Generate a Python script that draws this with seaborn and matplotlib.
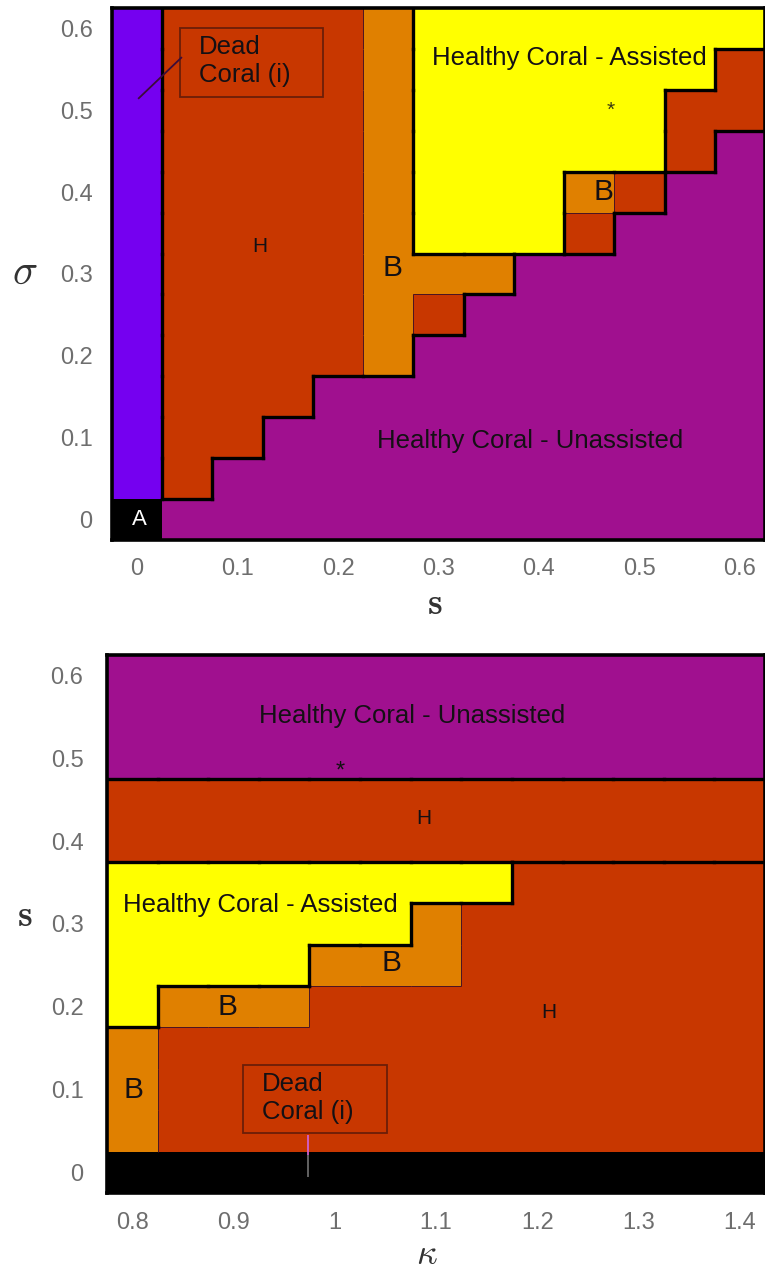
import numpy as np
import pandas as pd
import matplotlib
matplotlib.use("Agg")
import matplotlib.pyplot as plt
from matplotlib.colors import ListedColormap
from matplotlib.collections import LineCollection
from matplotlib.patches import Rectangle
import seaborn as sns

sns.set_theme(style="white")
plt.rcParams["font.family"] = ["Liberation Sans", "DejaVu Sans"]
plt.rcParams["mathtext.fontset"] = "cm"

# ---------------------------------------------------------------- regimes
# A: no coral, D: dead coral (i), H / h: two H regimes, B: bistable,
# Y: healthy coral (assisted), U: healthy coral (unassisted)
region_codes = ["A", "D", "H", "h", "B", "Y", "U"]
region_colors = ["#000000", "#7500F0", "#C83700", "#C83700",
                 "#E08000", "#FFFF00", "#A0108F"]
# boundaries between these pairs are drawn thin
soft_pairs = [{"H", "B"}, {"h", "B"}]

# ---------------------------------------------------------------- panel 1: s vs sigma
s_values = [0.00, 0.05, 0.10, 0.15, 0.20, 0.25, 0.30,
            0.35, 0.40, 0.45, 0.50, 0.55, 0.60]
sigma_values = [0.00, 0.05, 0.10, 0.15, 0.20, 0.25, 0.30,
                0.35, 0.40, 0.45, 0.50, 0.55, 0.60]
# one string per sigma value, from sigma = 0.60 down to sigma = 0.00
sigma_s_rows = [
    "DHHHHBYYYYYYY",
    "DHHHHBYYYYYYH",
    "DHHHHBYYYYYHH",
    "DHHHHBYYYYYHU",
    "DHHHHBYYYBHUU",
    "DHHHHBYYYHUUU",
    "DHHHHBBBUUUUU",
    "DHHHHBHUUUUUU",
    "DHHHHBUUUUUUU",
    "DHHHUUUUUUUUU",
    "DHHUUUUUUUUUU",
    "DHUUUUUUUUUUU",
    "AUUUUUUUUUUUU",
]
top_xticks = [0.0, 0.1, 0.2, 0.3, 0.4, 0.5, 0.6]
top_xticklabels = ["0", "0.1", "0.2", "0.3", "0.4", "0.5", "0.6"]
top_yticks = [0.0, 0.1, 0.2, 0.3, 0.4, 0.5, 0.6]
top_yticklabels = ["0", "0.1", "0.2", "0.3", "0.4", "0.5", "0.6"]

# ---------------------------------------------------------------- panel 2: kappa vs s
kappa_values = [0.80, 0.85, 0.90, 0.95, 1.00, 1.05, 1.10,
                1.15, 1.20, 1.25, 1.30, 1.35, 1.40]
s2_values = [0.00, 0.05, 0.10, 0.15, 0.20, 0.25, 0.30,
             0.35, 0.40, 0.45, 0.50, 0.55, 0.60]
# one string per s value, from s = 0.60 down to s = 0.00
kappa_s_rows = [
    "UUUUUUUUUUUUU",
    "UUUUUUUUUUUUU",
    "UUUUUUUUUUUUU",
    "HHHHHHHHHHHHH",
    "HHHHHHHHHHHHH",
    "YYYYYYYYhhhhh",
    "YYYYYYBhhhhhh",
    "YYYYBBBhhhhhh",
    "YBBBhhhhhhhhh",
    "Bhhhhhhhhhhhh",
    "Bhhhhhhhhhhhh",
    "Bhhhhhhhhhhhh",
    "AAAAAAAAAAAAA",
]
bot_xticks = [0.8, 0.9, 1.0, 1.1, 1.2, 1.3, 1.4]
bot_xticklabels = ["0.8", "0.9", "1", "1.1", "1.2", "1.3", "1.4"]
bot_yticks = [0.0, 0.1, 0.2, 0.3, 0.4, 0.5, 0.6]
bot_yticklabels = ["0", "0.1", "0.2", "0.3", "0.4", "0.5", "0.6"]

TEXT = "#141014"
TICK = "#6e6e6e"


class RegimeMap:
    """Draws a categorical regime grid with seaborn and maps data values
    to the heatmap's cell coordinates."""

    def __init__(self, ax, rows, xvals, yvals):
        self.ax = ax
        self.rows = rows
        self.xvals = xvals
        self.yvals = yvals
        self.dx = xvals[1] - xvals[0]
        self.dy = yvals[1] - yvals[0]

    def x(self, v):
        return (v - self.xvals[0]) / self.dx + 0.5

    def y(self, v):
        return (self.yvals[-1] - v) / self.dy + 0.5

    def draw(self):
        idx = {c: i for i, c in enumerate(region_codes)}
        grid = np.array([[idx[c] for c in row] for row in self.rows])
        df = pd.DataFrame(grid,
                          index=self.yvals[::-1], columns=self.xvals)
        cmap = ListedColormap(region_colors)
        sns.heatmap(df, ax=self.ax, cmap=cmap, vmin=-0.5,
                    vmax=len(region_codes) - 0.5, cbar=False,
                    xticklabels=False, yticklabels=False, linewidths=0)
        self._borders()

    def _borders(self):
        rows = self.rows
        nr, nc = len(rows), len(rows[0])
        thick, thin = [], []

        def add(a, b, seg):
            if a == b or "A" in (a, b):
                return
            if {a, b} in soft_pairs:
                thin.append(seg)
            else:
                thick.append(seg)

        for r in range(nr):
            for c in range(nc - 1):
                add(rows[r][c], rows[r][c + 1],
                    [(c + 1, r), (c + 1, r + 1)])
        for r in range(nr - 1):
            for c in range(nc):
                add(rows[r][c], rows[r + 1][c],
                    [(c, r + 1), (c + 1, r + 1)])
        self.ax.add_collection(LineCollection(
            thin, colors="#4a1424", linewidths=0.7, zorder=3))
        self.ax.add_collection(LineCollection(
            thick, colors="black", linewidths=2.4,
            capstyle="projecting", zorder=4))

    def ticks(self, xt, xl, yt, yl, xpad, ypad):
        ax = self.ax
        ax.set_xticks([self.x(v) for v in xt])
        ax.set_xticklabels(xl)
        ax.set_yticks([self.y(v) for v in yt])
        ax.set_yticklabels(yl, rotation=0)
        ax.tick_params(axis="x", length=0, pad=xpad, labelsize=17,
                       labelcolor=TICK)
        ax.tick_params(axis="y", length=0, pad=ypad, labelsize=17,
                       labelcolor=TICK)
        for sp in ax.spines.values():
            sp.set_visible(True)
            sp.set_color("black")
            sp.set_linewidth(2.6)
            sp.set_zorder(5)

    def label(self, x, y, txt, size=18.5, color=TEXT, **kw):
        kw.setdefault("ha", "center")
        kw.setdefault("va", "center")
        self.ax.text(self.x(x), self.y(y), txt, fontsize=size,
                     color=color, zorder=6, **kw)

    def dead_box(self, x0, x1, y0, y1, tx, ty, leader):
        ax = self.ax
        ax.add_patch(Rectangle((self.x(x0), self.y(y1)),
                               self.x(x1) - self.x(x0),
                               self.y(y0) - self.y(y1),
                               fill=False, edgecolor="#6b1e08",
                               linewidth=1.3, zorder=6))
        ax.text(self.x(tx), self.y(ty), "Dead\nCoral (i)", fontsize=18.5,
                color=TEXT, ha="left", va="center", linespacing=1.22,
                zorder=6)
        for (xa, ya), (xb, yb), col in leader:
            ax.plot([self.x(xa), self.x(xb)], [self.y(ya), self.y(yb)],
                    color=col, linewidth=1.3, zorder=6,
                    solid_capstyle="butt")


W, H = 765, 1274
fig = plt.figure(figsize=(W / 100, H / 100), dpi=100)
fig.patch.set_facecolor("white")


def axes_px(left, top, right, bottom):
    return fig.add_axes([left / W, 1 - bottom / H,
                         (right - left) / W, (bottom - top) / H])


# ---------------- top panel
ax1 = axes_px(112, 8, 765, 540)
top = RegimeMap(ax1, sigma_s_rows, s_values, sigma_values)
top.draw()
top.ticks(top_xticks, top_xticklabels, top_yticks, top_yticklabels,
          xpad=13, ypad=14)
ax1.set_xlabel(r"$\mathbf{s}$", fontsize=27, color="#333333",
               va="center", ha="center")
ax1.xaxis.set_label_coords(0.495, -0.120)
ax1.set_ylabel(r"$\sigma$", fontsize=30, color="#333333",
               rotation=0, ha="center", va="center")
ax1.yaxis.set_label_coords(-0.133, 0.502)

top.dead_box(0.0426, 0.185, 0.5165, 0.601, 0.0614, 0.560,
             [((0.0446, 0.565), (0.001, 0.514), "#3c0c3a")])
top.label(0.1218, 0.333, "H", size=15)
top.label(0.2545, 0.3075, "B", size=21.5)
top.label(0.4307, 0.564, "Healthy Coral - Assisted")
top.label(0.471, 0.500, "*", size=15, color="#3a3a10")
top.label(0.464, 0.400, "B", size=21.5)
top.label(0.391, 0.096, "Healthy Coral - Unassisted")
top.label(0.002, 0.000, "A", size=16, color="white")

# ---------------- bottom panel
ax2 = axes_px(107, 655, 765, 1193)
bot = RegimeMap(ax2, kappa_s_rows, kappa_values, s2_values)
bot.draw()
bot.ticks(bot_xticks, bot_xticklabels, bot_yticks, bot_yticklabels,
          xpad=14, ypad=17)
ax2.set_xlabel(r"$\kappa$", fontsize=26, color="#333333",
               va="center", ha="center")
ax2.xaxis.set_label_coords(0.486, -0.114)
ax2.set_ylabel(r"$\mathbf{s}$", fontsize=27, color="#333333",
               rotation=0, ha="center", va="center")
ax2.yaxis.set_label_coords(-0.125, 0.515)

bot.label(1.0763, 0.551, "Healthy Coral - Unassisted")
bot.label(1.005, 0.484, "*", size=17, color="#101010")
bot.label(1.088, 0.428, "H", size=15)
bot.label(0.927, 0.323, "Healthy Coral - Assisted")
bot.label(1.0556, 0.253, "B", size=21.5)
bot.label(0.8936, 0.200, "B", size=21.5)
bot.label(0.8007, 0.0994, "B", size=21.5)
bot.label(1.2117, 0.1936, "H", size=15)
bot.dead_box(0.9094, 1.0517, 0.0475, 0.1296, 0.9281, 0.0898,
             [((0.9736, 0.045), (0.9736, 0.0209), "#d060d0"),
              ((0.9736, 0.0209), (0.9736, -0.0057), "#6a6a6a")])

fig.savefig("out.png", dpi=100, facecolor="white")
